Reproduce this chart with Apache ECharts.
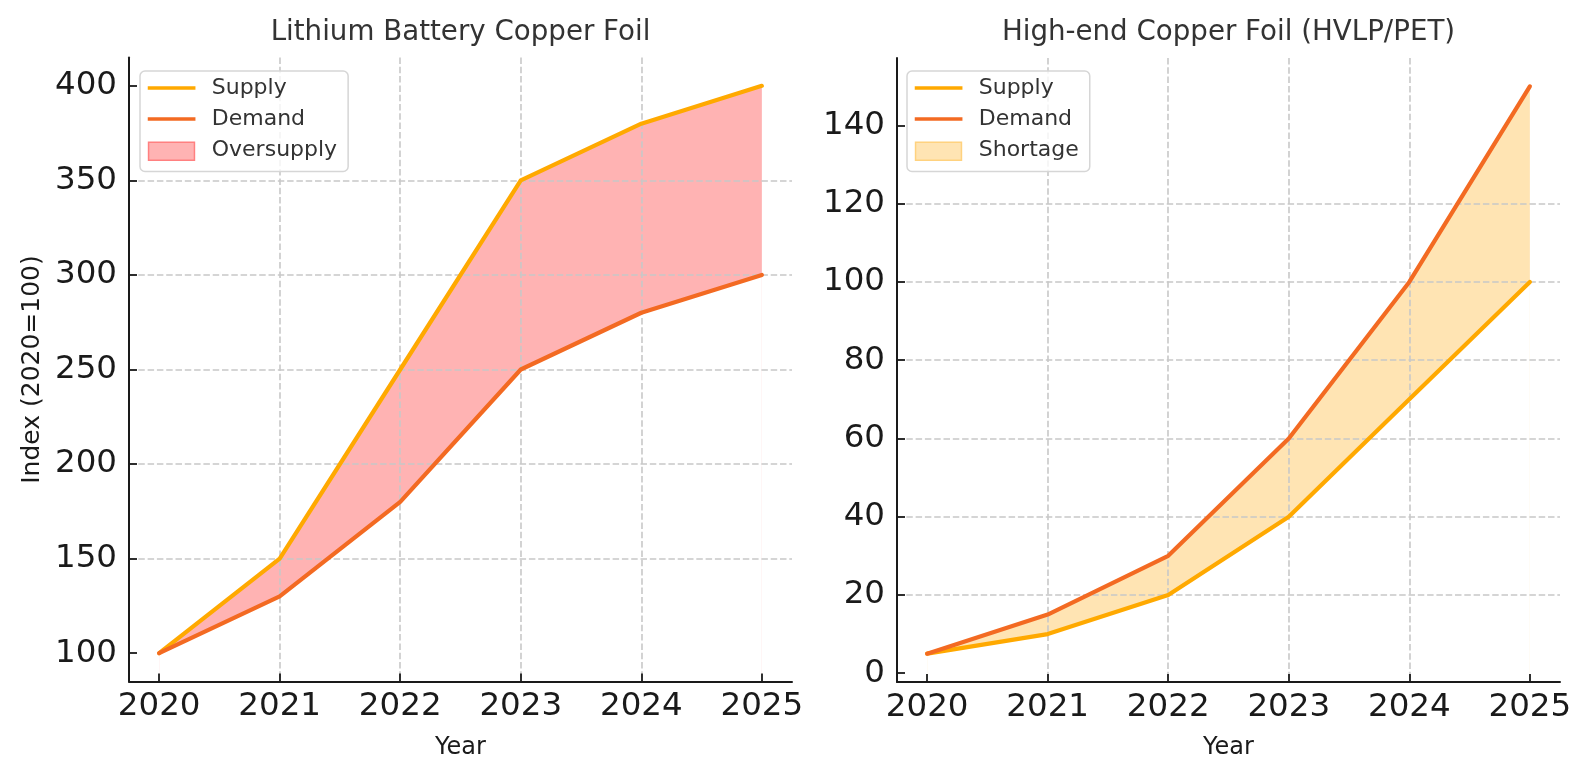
<!DOCTYPE html>
<html><head><meta charset="utf-8">
<script src="https://cdn.jsdelivr.net/npm/echarts@6/dist/echarts.min.js"></script>
<style>html,body{margin:0;padding:0;background:#fff}#c{width:1592px;height:780px}</style>
</head><body><div id="c"></div>
<script>
const years = [2020, 2021, 2022, 2023, 2024, 2025];
const lithiumSupply = [100, 150, 250, 350, 380, 400];
const lithiumDemand = [100, 130, 180, 250, 280, 300];
const highEndSupply = [5, 10, 20, 40, 70, 100];
const highEndDemand = [5, 15, 30, 60, 100, 150];
const lithiumTicks = [100, 150, 200, 250, 300, 350, 400];
const highEndTicks = [0, 20, 40, 60, 80, 100, 120, 140];
const yearTicks = [2020, 2021, 2022, 2023, 2024, 2025];
const titles = ['Lithium Battery Copper Foil', 'High-end Copper Foil (HVLP/PET)'];
const legendNames = [['Supply', 'Demand', 'Oversupply'], ['Supply', 'Demand', 'Shortage']];

const FONT = 'DejaVu Sans';
const C_SUPPLY = '#ffa900';
const C_DEMAND = '#f36a22';
const FILL = ['#ffb3b3', '#ffe4b3'];
const EDGE = ['#ff8080', '#ffd27f'];
const AXIS = '#1a1a1a';
const pairs = arr => years.map((y, i) => [y, arr[i]]);

const grids = [
  { left: 129, top: 57.5, width: 663, height: 624 },
  { left: 897, top: 58, width: 663, height: 624 }
];
const yRanges = [[85, 415], [-2.25, 157.25]];
const yTicks = [lithiumTicks, highEndTicks];

const splitStyle = { color: '#c8c8c8', width: 1.6, type: [6.5, 2.8] };

const xAxes = [0, 1].map(g => ({
  type: 'value', gridIndex: g, min: 2019.75, max: 2025.25, z: 1.5,
  axisLine: { onZero: false, lineStyle: { color: AXIS, width: 2 } },
  axisTick: { inside: true, length: 8, lineStyle: { color: AXIS, width: 1.8 }, customValues: yearTicks },
  axisLabel: { customValues: yearTicks, fontSize: 32.5, color: AXIS, margin: 9, fontFamily: FONT, formatter: v => String(v) },
  splitLine: { show: true, showMinLine: false, showMaxLine: false, lineStyle: splitStyle },
  name: 'Year', nameLocation: 'middle', nameGap: 54,
  nameTextStyle: { fontSize: 24, color: AXIS, fontFamily: FONT }
}));
const yAxes = [0, 1].map(g => ({
  type: 'value', gridIndex: g, min: yRanges[g][0], max: yRanges[g][1], z: 1.5,
  axisLine: { show: true, onZero: false, lineStyle: { color: AXIS, width: 2 } },
  axisTick: { show: true, inside: true, length: 8, lineStyle: { color: AXIS, width: 1.8 }, customValues: yTicks[g] },
  axisLabel: { customValues: yTicks[g], fontSize: 32.5, color: AXIS, margin: 12, fontFamily: FONT, formatter: v => String(v) },
  splitLine: { show: true, showMinLine: false, showMaxLine: false, lineStyle: splitStyle },
  name: g === 0 ? 'Index (2020=100)' : '', nameLocation: 'middle', nameGap: 84, nameRotate: 90,
  nameTextStyle: { fontSize: 25, color: AXIS, fontFamily: FONT }
}));

const LINE_ICON = 'path://M0,0L0,0M59,22L59,22M0,9.2L47.7,9.2L47.7,12.8L0,12.8Z';
const PATCH_ICON = 'path://M0,0L0,0M59,22L59,22M0.8,2.5L46.7,2.5L46.7,20.5L0.8,20.5Z';

const legends = [0, 1].map(g => ({
  orient: 'vertical', left: g === 0 ? 140 : 907, top: 71,
  itemWidth: 59, itemHeight: 22, itemGap: 9, padding: [6, 11, 9, 7],
  backgroundColor: 'rgba(255,255,255,0.8)', borderColor: '#d6d6d6', borderWidth: 1.5, borderRadius: 5,
  textStyle: { fontSize: 22, color: '#333', fontFamily: FONT },
  selectedMode: false, symbolKeepAspect: false,
  data: [
    { name: legendNames[g][0], icon: LINE_ICON, itemStyle: { color: C_SUPPLY, borderWidth: 0 } },
    { name: legendNames[g][1], icon: LINE_ICON, itemStyle: { color: C_DEMAND, borderWidth: 0 } },
    { name: legendNames[g][2], icon: PATCH_ICON, itemStyle: { color: FILL[g], borderColor: EDGE[g], borderWidth: 1.5 } }
  ]
}));

function areaSeries(name, data, g, color, z) {
  return {
    type: 'line', name, xAxisIndex: g, yAxisIndex: g, data: pairs(data), symbol: 'none', silent: true,
    z, lineStyle: { width: 0, color }, itemStyle: { color },
    areaStyle: { color, opacity: 1, origin: 'start' }
  };
}
function lineSeries(name, data, g, color) {
  return {
    type: 'line', name, xAxisIndex: g, yAxisIndex: g, data: pairs(data), symbol: 'none', z: 2,
    lineStyle: { width: 4.2, color, cap: 'round', join: 'round' }, itemStyle: { color }
  };
}

const series = [
  areaSeries('Oversupply', lithiumSupply, 0, FILL[0], 1),
  areaSeries('lithium-below', lithiumDemand, 0, '#ffffff', 1.2),
  lineSeries('Supply', lithiumSupply, 0, C_SUPPLY),
  lineSeries('Demand', lithiumDemand, 0, C_DEMAND),
  areaSeries('Shortage', highEndDemand, 1, FILL[1], 1),
  areaSeries('highend-below', highEndSupply, 1, '#ffffff', 1.2),
  lineSeries('Supply', highEndSupply, 1, C_SUPPLY),
  lineSeries('Demand', highEndDemand, 1, C_DEMAND)
];

const chart = echarts.init(document.getElementById('c'), null, { renderer: 'canvas' });
chart.setOption({
  animation: false,
  backgroundColor: '#ffffff',
  title: [
    { text: titles[0], left: 460.5, top: 19, textAlign: 'center', padding: 0,
      textStyle: { fontSize: 27.7, fontWeight: 'normal', color: '#333', fontFamily: FONT } },
    { text: titles[1], left: 1228.5, top: 19, textAlign: 'center', padding: 0,
      textStyle: { fontSize: 27.7, fontWeight: 'normal', color: '#333', fontFamily: FONT } }
  ],
  grid: grids,
  xAxis: xAxes,
  yAxis: yAxes,
  legend: legends,
  series
});
</script></body></html>
